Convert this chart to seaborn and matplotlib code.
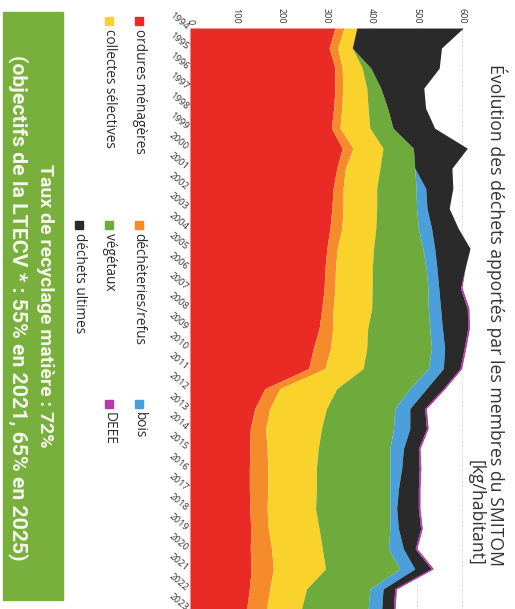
import pandas as pd
import matplotlib.pyplot as plt
import seaborn as sns
from matplotlib.patches import Rectangle

# kg/habitant
years = list(range(1994, 2024))
ordures = [320, 307, 320, 320, 317, 312, 336, 324, 316, 313, 309, 302, 298, 296, 291,
           285, 272, 262, 165, 143, 133, 132, 131, 131, 132, 134, 133, 135, 131, 125]
decheteries = [20, 19, 16, 17, 18, 19, 24, 19, 22, 25, 26, 23, 23, 24, 25,
               30, 38, 36, 33, 33, 34, 38, 41, 41, 38, 39, 47, 49, 45, 44]
collectes = [28, 32, 44, 53, 58, 66, 66, 76, 74, 74, 75, 80, 81, 82, 85,
             77, 80, 84, 126, 125, 123, 113, 107, 107, 107, 112, 112, 115, 81, 77]
vegetaux = [0, 0, 19, 31, 43, 51, 67, 77, 87, 88, 94, 109, 119, 123, 125,
            137, 143, 144, 161, 151, 159, 158, 162, 162, 164, 156, 146, 164, 140, 147]
bois = [0, 0, 0, 0, 0, 0, 0, 0, 21, 23, 29, 26, 24, 24, 27,
        28, 29, 33, 37, 33, 36, 30, 26, 19, 15, 19, 33, 33, 29, 30]
ultimes = [235, 197, 151, 95, 84, 92, 119, 82, 60, 49, 59, 78, 62, 48, 59,
           56, 43, 37, 37, 33, 37, 33, 39, 44, 48, 49, 26, 37, 26, 26]
deee = [0, 0, 0, 0, 0, 0, 0, 0, 0, 0, 0, 0, 0, 3, 3,
        3, 3, 3, 3, 3, 3, 3, 3, 3, 3, 3, 3, 3, 3, 3]

labels = ["ordures ménagères", "déchèteries/refus", "collectes sélectives",
          "végétaux", "bois", "déchets ultimes", "DEEE"]
colors = ["#ea2a24", "#f68b2c", "#f9d22c", "#6eab3c", "#4b9fda", "#2a2a2a", "#b23ca9"]

df = pd.DataFrame(dict(zip(labels, [ordures, decheteries, collectes, vegetaux,
                                    bois, ultimes, deee])), index=years)
cum = df.cumsum(axis=1)

sns.set_theme(style="white")
plt.rcParams['font.family'] = ['Open Sans', 'DejaVu Sans']

W, H = 515, 609
fig = plt.figure(figsize=(W / 100, H / 100), dpi=100)
ax = fig.add_axes([190 / W, 0, 290 / W, 581 / H])

lower = 0
for lab, col in zip(labels, colors):
    ax.fill_betweenx(years, lower, cum[lab], color=col, lw=0, zorder=2)
    lower = cum[lab]

# pink outline of DEEE on the outer edge
edge = cum[cum["DEEE"].index >= 2007]
sns.lineplot(x=edge["DEEE"].values, y=edge.index, orient="y", color=colors[-1],
             lw=1.0, ax=ax, zorder=3)

ax.set_xlim(0, 640)
ax.set_ylim(2023, 1994)
ax.set_xlabel("")
ax.set_ylabel("")
ax.xaxis.tick_top()
ax.set_xticks(range(0, 700, 100))
ax.set_xticklabels([str(v) for v in range(0, 700, 100)], rotation=-90,
                   fontsize=6.5, color="#333333")
ax.set_yticks(years)
ax.set_yticklabels([str(y) for y in years], rotation=-40, ha="right", va="center",
                   rotation_mode="anchor", fontsize=6.8, color="#333333")
ax.tick_params(axis="x", length=0, pad=3)
ax.tick_params(axis="y", length=0, pad=2)
ax.grid(axis="x", color="#bbbbbb", linestyle=(0, (1, 2)), lw=0.6)
ax.set_axisbelow(True)
for s in ax.spines.values():
    s.set_visible(False)


def fx(x):
    return x / W


def fy(y):
    return 1 - y / H


# title
fig.text(fx(487), fy(315), "Évolution des déchets apportés par les membres du SMITOM\n[kg/habitant]",
         rotation=-90, ha="center", va="center", multialignment="right",
         fontsize=12.7, color="#333333", linespacing=1.05)

# legend drawn by hand (rotated)
legend_pos = [(139, 17), (139, 221), (109, 17), (109, 221), (139, 400), (79, 221), (109, 400)]
for lab, col, (x, y) in zip(labels, colors, legend_pos):
    fig.patches.append(Rectangle((fx(x - 4), fy(y + 8)), 8 / W, 8 / H, color=col,
                                 transform=fig.transFigure, figure=fig))
    fig.text(fx(x), fy(y + 12), lab, rotation=-90, ha="center", va="top",
             fontsize=9.8, color="#2b2b2b")

# green box
fig.patches.append(Rectangle((fx(3), fy(600)), 60 / W, 588 / H, color="#79b03d",
                             transform=fig.transFigure, figure=fig))
fig.text(fx(45), fy(306), "Taux de recyclage matière : 72%", rotation=-90,
         ha="center", va="center", fontsize=14, fontweight="bold",
         color="#f4f7ea", family=["Roboto", "DejaVu Sans"])
fig.text(fx(18), fy(308), "(objectifs de la LTECV * : 55% en 2021, 65% en 2025)",
         rotation=-90, ha="center", va="center", fontsize=15.3, fontweight="bold",
         color="#f4f7ea", family=["Roboto", "DejaVu Sans"])

fig.savefig("out.png", dpi=100)
